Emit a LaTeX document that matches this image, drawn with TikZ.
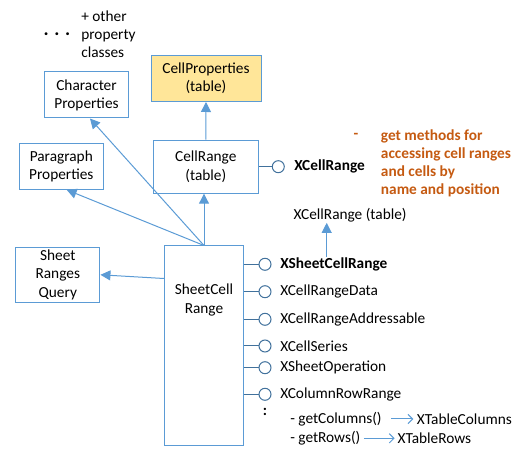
\documentclass[tikz,border=0pt]{standalone}
\usepackage{fontspec}
\setmainfont{Carlito}
\usetikzlibrary{arrows.meta,positioning}
\definecolor{boxline}{HTML}{5B9BD5}
\definecolor{lollipop}{HTML}{41719C}
\definecolor{propfill}{HTML}{FFE699}
\definecolor{note}{HTML}{C55A11}
\tikzset{
	cls/.style={draw=boxline, line width=0.75pt, align=center, inner sep=0pt},
	inherit/.style={draw=boxline, line width=0.75pt, -{Triangle[length=7.5pt,width=7.5pt]}},
	ret/.style={draw=boxline, line width=0.75pt, -{Straight Barb[length=3.5pt,width=7pt]}},
	iface/.style={circle, draw=lollipop, line width=0.75pt, minimum size=9pt, inner sep=0pt},
	stem/.style={draw=lollipop, line width=0.75pt},
	word/.style={anchor=west, inner sep=0pt}
}
\begin{document}
\begin{tikzpicture}[x=0.75pt, y=-0.75pt, font=\fontsize{11.5}{13.6}\selectfont]
	\useasboundingbox (0,0) rectangle (526,466);
	\node[anchor=north west, align=left, inner sep=0pt] (others) at (81,10.5) {+ other\\property\\classes};
	\node (dots) at (57,36) {\textbf{·}\hspace{5pt}\textbf{·}\hspace{5pt}\textbf{·}};
	\node[cls, minimum width=63pt, minimum height=34.5pt] (charprops) at (86.5,95) {Character\\Properties};
	\node[cls, fill=propfill, minimum width=82.5pt, minimum height=34.5pt] (cellprops) at (206,78.5) {CellProperties\\(table)};
	\node[cls, minimum width=63pt, minimum height=34.5pt] (paraprops) at (61.3,166.3) {Paragraph\\Properties};
	\node[cls, minimum width=78.75pt, minimum height=39.75pt] (cellrange) at (205.8,166.7) {CellRange\\(table)};
	\node[cls, minimum width=63.2pt, minimum height=41.25pt] (sheetquery) at (57.8,274.8) {Sheet\\Ranges\\Query};
	\node[cls, minimum width=59.5pt, minimum height=150pt] (scr) at (204,346) {};
	\node[align=center] (scrname) at (204,300) {SheetCell\\Range};
	\path[inherit] (cellrange.north) -- (cellprops.south);
	\path[inherit] (scr.north) -- ([xshift=2.6pt]charprops.south);
	\path[inherit] (scr.north) -- ([xshift=4pt]paraprops.south);
	\path[inherit] (scr.north) -- (scr.north |- cellrange.south);
	\path[inherit] ([yshift=-24.75pt]scr.north west) -- (sheetquery.east);
	\node[iface] (xcr) at (278.3,166.7) {};
	\node[word] (xcr-l) at (294,166.7) {\textbf{XCellRange}};
	\path[stem] (cellrange.east |- xcr) -- (xcr);
	\node[anchor=east] (dash) at (363,136) {\textcolor{note}{\textbf{-}}};
	\node[anchor=north west, align=left, inner sep=0pt, text=note, font=\fontsize{11.5}{13.6}\selectfont\bfseries] (accessnote) at (380.7,129.5) {get methods for\\accessing cell ranges\\and cells by\\name and position};
	\node[word] (xcrt) at (293.3,215.7) {XCellRange (table)};
	\foreach \y/\n/\t in {264.3/xscr/\textbf{XSheetCellRange}, 291.7/xcrd/XCellRangeData, 319.3/xcra/XCellRangeAddressable, 346/xcs/XCellSeries, 367.7/xso/XSheetOperation, 394.3/xcrr/XColumnRowRange} {
		\node[iface] (\n) at (265,\y) {};
		\node[word] (\n-l) at (280,\y) {\t};
		\path[stem] (scr.east |- \n) -- (\n);
	}
	\coordinate (scrup) at (326.7,257);
	\path[inherit] (scrup) -- (scrup |- xcrt.south);
	\node (more) at (265,412) {\textbf{:}};
	\node[word] (getcols) at (290,419) {- getColumns()};
	\node[word] (tcols) at (416.7,419) {XTableColumns};
	\path[ret, shorten <=7pt, shorten >=2.5pt] (getcols.east) -- (getcols.east -| tcols.west);
	\node[word] (getrows) at (290,438.3) {- getRows()};
	\node[word] (trows) at (397.3,438.3) {XTableRows};
	\path[ret, shorten <=2.5pt, shorten >=2pt] (getrows.east) -- (getrows.east -| trows.west);
\end{tikzpicture}
\end{document}
